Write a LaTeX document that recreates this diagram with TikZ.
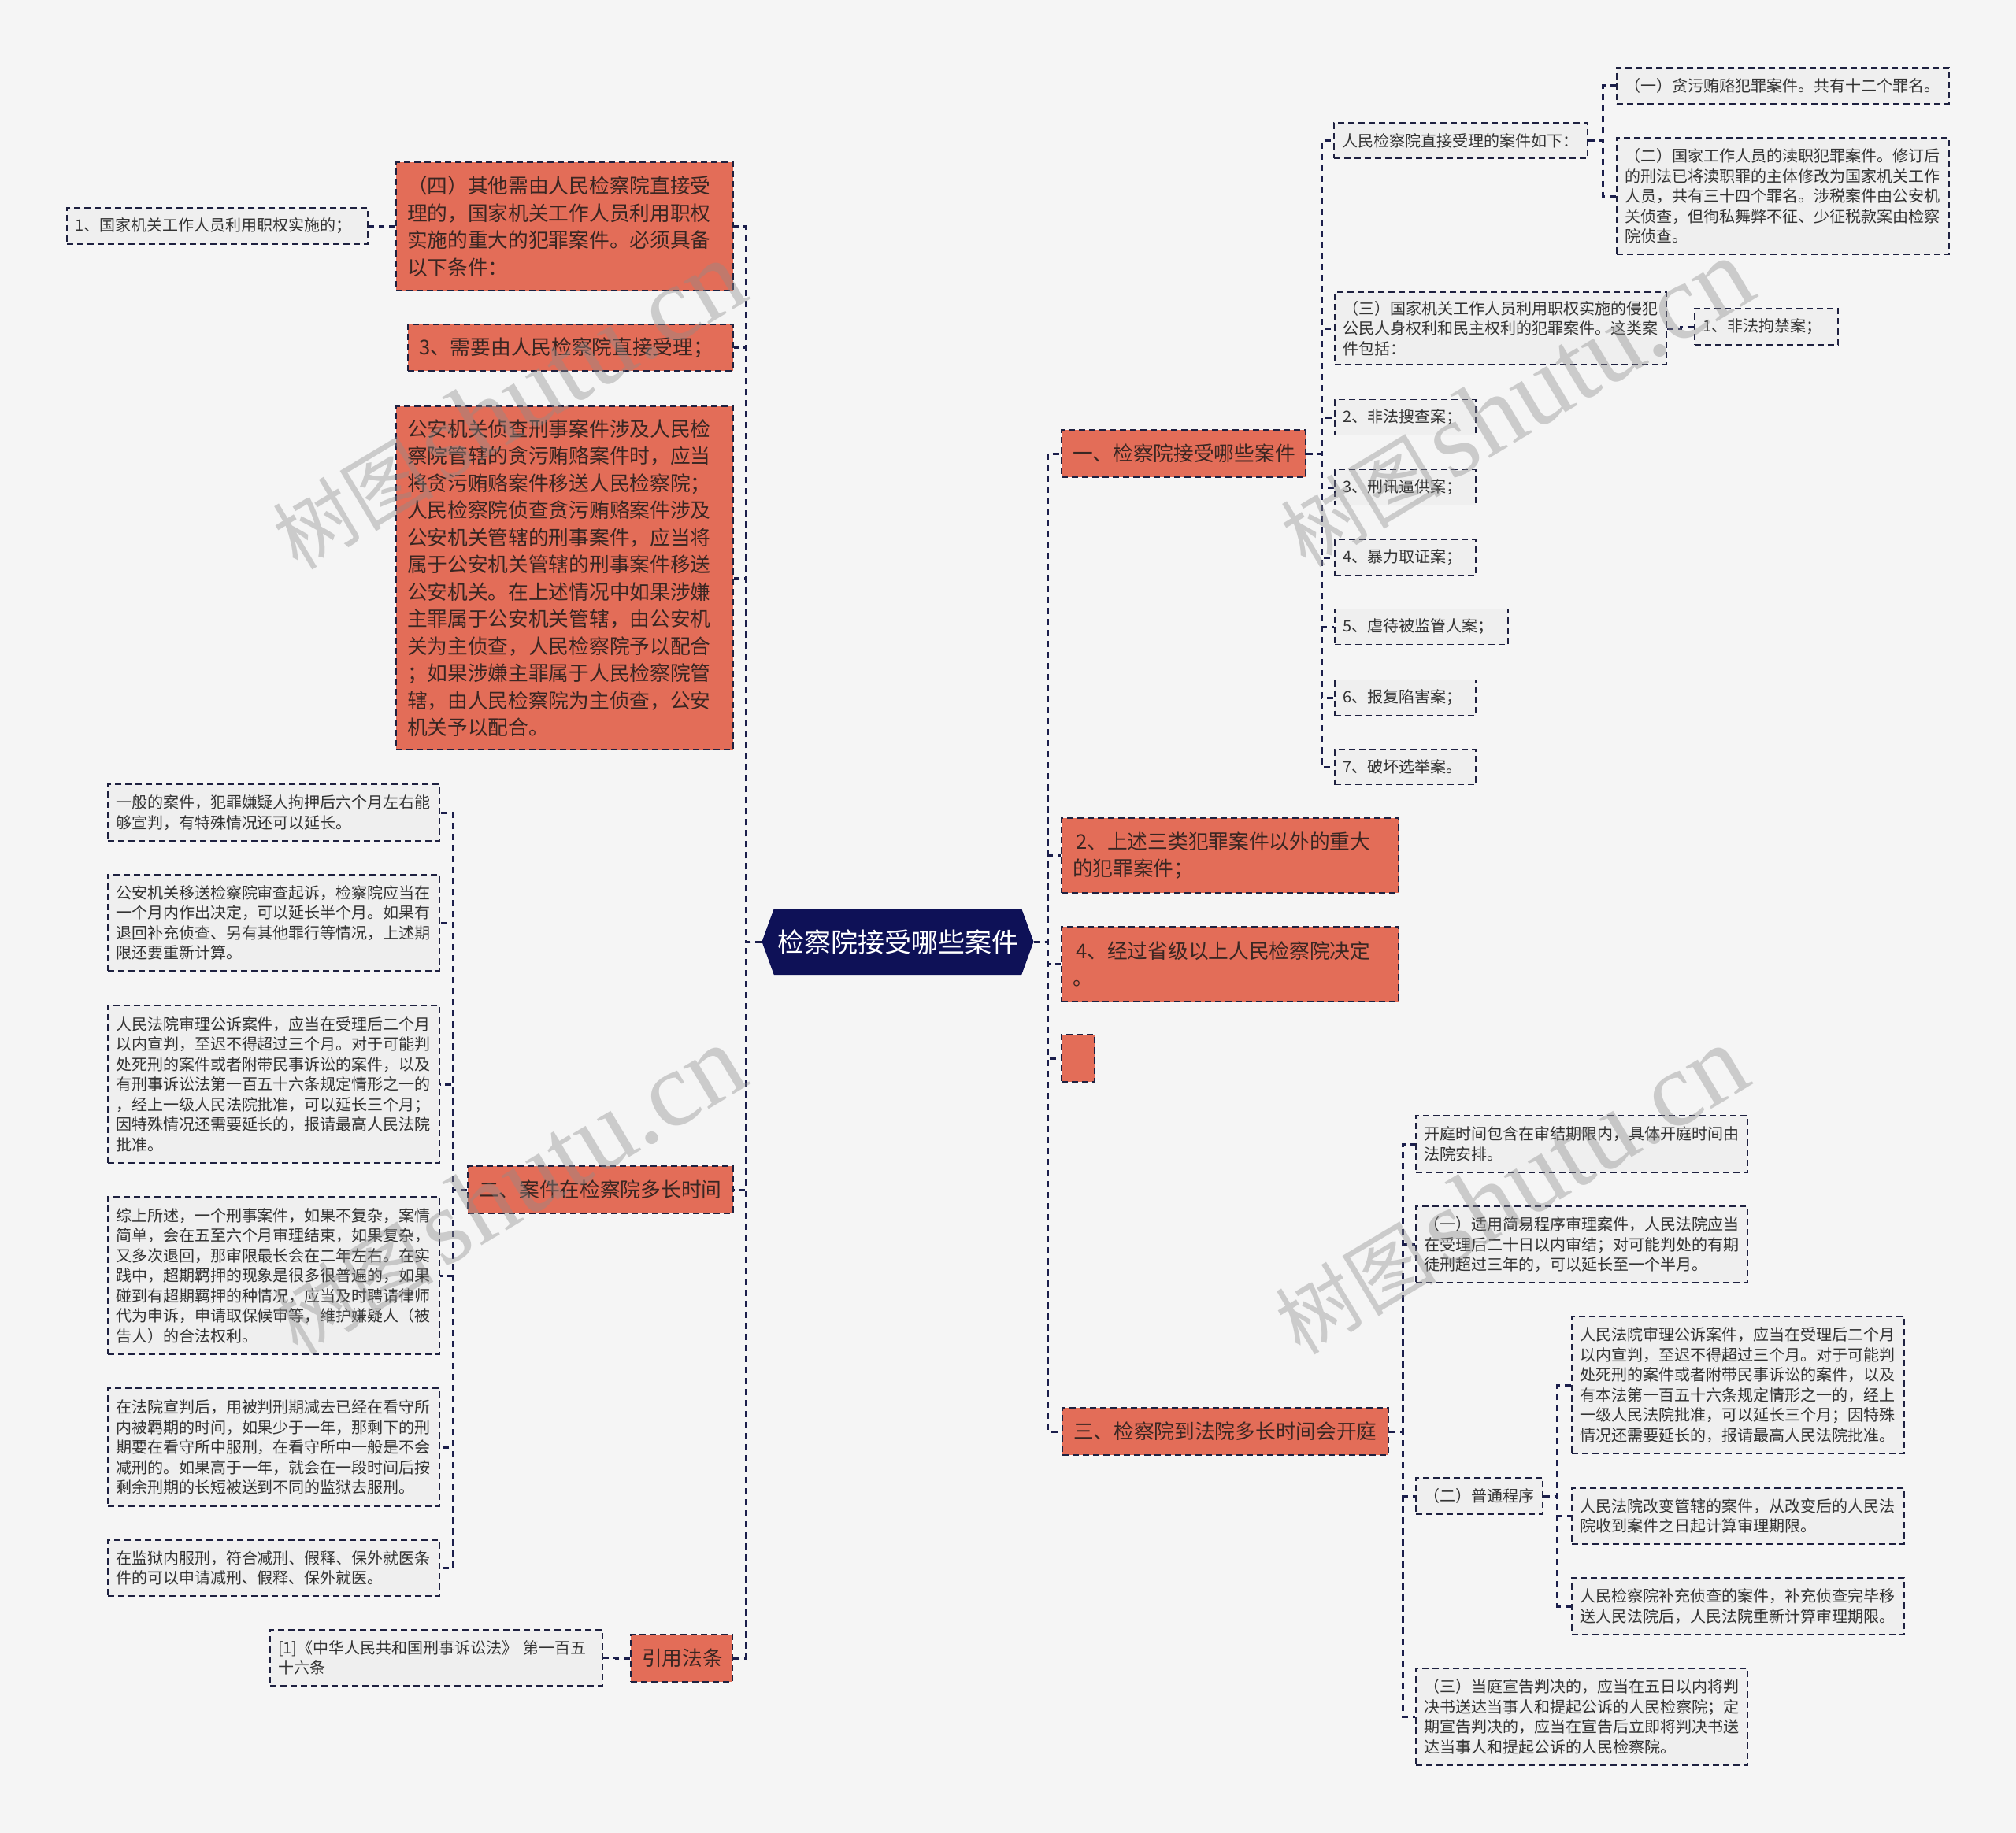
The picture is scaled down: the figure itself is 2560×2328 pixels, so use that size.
\documentclass[tikz,border=0pt]{standalone}
\usepackage{fontspec}
\setmainfont{Noto Sans CJK SC}
\newfontfamily\wmlat{Liberation Serif}
\usetikzlibrary{shapes.symbols}
\definecolor{bgc}{HTML}{F5F5F5}
\definecolor{org}{HTML}{E36D58}
\definecolor{orgtxt}{HTML}{3A2622}
\definecolor{bord}{HTML}{1E2140}
\definecolor{navy}{HTML}{0E1157}
\definecolor{grayfill}{HTML}{EFEFEF}
\definecolor{graytxt}{HTML}{333333}
\definecolor{linec}{HTML}{1B1E4B}
\pgfdeclarelayer{back}
\pgfsetlayers{back,main}
\begin{document}
\begin{tikzpicture}[x=0.5pt,y=-0.5pt,
 obox/.style={draw=bord, fill=org, text=orgtxt, dash pattern=on 4pt off 2.5pt, line width=1pt, inner xsep=7pt, inner ysep=0pt, align=left, font=\fontsize{12.85pt}{17.25pt}\selectfont},
 gbox/.style={draw=bord, fill=grayfill, text=graytxt, dash pattern=on 4pt off 2.5pt, line width=0.9pt, inner xsep=5pt, inner ysep=0pt, align=left, font=\fontsize{10pt}{12.75pt}\selectfont},
 conn/.style={draw=linec, dash pattern=on 4pt off 3pt, line width=1.5pt},
 wm/.style={text=black!45, opacity=0.4, rotate=31, inner sep=0pt}
]
\useasboundingbox (0,0) rectangle (2560,2328);
% central
\node[shape=signal, signal to=east and west, signal pointer angle=140, fill=navy, text=white, minimum width=172.5pt, minimum height=42pt, inner sep=0pt, font=\fontsize{17pt}{20pt}\selectfont] (c) at (1140,1196) {检察院接受哪些案件};

% left side
\node[obox, text width=200pt, minimum height=81.5pt] (n4) at (717,287.5) {（四）其他需由人民检察院直接受\\理的，国家机关工作人员利用职权\\实施的重大的犯罪案件。必须具备\\以下条件：};
\node[gbox, text width=181pt, minimum height=23pt] (n4a) at (276,287) {1、国家机关工作人员利用职权实施的；};
\node[obox, text width=192.5pt, minimum height=29.5pt] (n3) at (724.5,441.5) {3、需要由人民检察院直接受理；};
\node[obox, text width=200pt, minimum height=218pt] (nga) at (717,734) {公安机关侦查刑事案件涉及人民检\\察院管辖的贪污贿赂案件时，应当\\将贪污贿赂案件移送人民检察院；\\人民检察院侦查贪污贿赂案件涉及\\公安机关管辖的刑事案件，应当将\\属于公安机关管辖的刑事案件移送\\公安机关。在上述情况中如果涉嫌\\主罪属于公安机关管辖，由公安机\\关为主侦查，人民检察院予以配合\\；如果涉嫌主罪属于人民检察院管\\辖，由人民检察院为主侦查，公安\\机关予以配合。};
\node[obox, text width=154.5pt, minimum height=30pt] (n2) at (762.5,1511) {二、案件在检察院多长时间};
\node[gbox, text width=200.5pt, minimum height=36pt] (n2a) at (347.5,1032) {一般的案件，犯罪嫌疑人拘押后六个月左右能\\够宣判，有特殊情况还可以延长。};
\node[gbox, text width=200.5pt, minimum height=61pt] (n2b) at (347.5,1172) {公安机关移送检察院审查起诉，检察院应当在\\一个月内作出决定，可以延长半个月。如果有\\退回补充侦查、另有其他罪行等情况，上述期\\限还要重新计算。};
\node[gbox, text width=200.5pt, minimum height=100pt] (n2c) at (347.5,1377) {人民法院审理公诉案件，应当在受理后二个月\\以内宣判，至迟不得超过三个月。对于可能判\\处死刑的案件或者附带民事诉讼的案件，以及\\有刑事诉讼法第一百五十六条规定情形之一的\\，经上一级人民法院批准，可以延长三个月；\\因特殊情况还需要延长的，报请最高人民法院\\批准。};
\node[gbox, text width=200.5pt, minimum height=100pt] (n2d) at (347.5,1620) {综上所述，一个刑事案件，如果不复杂，案情\\简单，会在五至六个月审理结束，如果复杂，\\又多次退回，那审限最长会在二年左右。在实\\践中，超期羁押的现象是很多很普遍的，如果\\碰到有超期羁押的种情况，应当及时聘请律师\\代为申诉，申请取保候审等，维护嫌疑人（被\\告人）的合法权利。};
\node[gbox, text width=200.5pt, minimum height=75pt] (n2e) at (347.5,1838) {在法院宣判后，用被判刑期减去已经在看守所\\内被羁期的时间，如果少于一年，那剩下的刑\\期要在看守所中服刑，在看守所中一般是不会\\减刑的。如果高于一年，就会在一段时间后按\\剩余刑期的长短被送到不同的监狱去服刑。};
\node[gbox, text width=200.5pt, minimum height=35.5pt] (n2f) at (347.5,1991.5) {在监狱内服刑，符合减刑、假释、保外就医条\\件的可以申请减刑、假释、保外就医。};
\node[obox, text width=50.5pt, minimum height=30pt] (nyin) at (865.5,2106) {引用法条};
\node[gbox, text width=201pt, minimum height=35.5pt] (nyina) at (554,2105.5) {[1]《中华人民共和国刑事诉讼法》 第一百五\\十六条};

% right side
\node[obox, text width=141pt, minimum height=30pt] (r1) at (1503,576) {一、检察院接受哪些案件};
\node[gbox, text width=151pt, minimum height=22.5pt] (r1a) at (1855,178.5) {人民检察院直接受理的案件如下：};
\node[gbox, text width=201pt, minimum height=23pt] (r1a1) at (2264,109) {（一）贪污贿赂犯罪案件。共有十二个罪名。};
\node[gbox, text width=201pt, minimum height=74pt] (r1a2) at (2264,249) {（二）国家工作人员的渎职犯罪案件。修订后\\的刑法已将渎职罪的主体修改为国家机关工作\\人员，共有三十四个罪名。涉税案件由公安机\\关侦查，但徇私舞弊不征、少征税款案由检察\\院侦查。};
\node[gbox, text width=200.5pt, minimum height=46pt] (r1b) at (1905.5,417) {（三）国家机关工作人员利用职权实施的侵犯\\公民人身权利和民主权利的犯罪案件。这类案\\件包括：};
\node[gbox, text width=81pt, minimum height=23pt] (r1b1) at (2243,415) {1、非法拘禁案；};
\node[gbox, text width=79.5pt, minimum height=22.5pt] (r1c) at (1784.5,530) {2、非法搜查案；};
\node[gbox, text width=79.5pt, minimum height=22.5pt] (r1d) at (1784.5,619) {3、刑讯逼供案；};
\node[gbox, text width=79.5pt, minimum height=22.5pt] (r1e) at (1784.5,708) {4、暴力取证案；};
\node[gbox, text width=100pt, minimum height=22.5pt] (r1f) at (1805,796) {5、虐待被监管人案；};
\node[gbox, text width=79.5pt, minimum height=22.5pt] (r1g) at (1784.5,886) {6、报复陷害案；};
\node[gbox, text width=79.5pt, minimum height=22.5pt] (r1h) at (1784.5,974) {7、破坏选举案。};
\node[obox, text width=200pt, minimum height=47.5pt] (r2) at (1562,1086.5) {\,2、上述三类犯罪案件以外的重大\\的犯罪案件；};
\node[obox, text width=200pt, minimum height=47.5pt] (r4) at (1562,1224.5) {\,4、经过省级以上人民检察院决定\\。};
\node[obox, text width=7pt, minimum height=30pt] (re) at (1369,1344) {};
\node[obox, text width=193pt, minimum height=30pt] (r3) at (1556,1818) {三、检察院到法院多长时间会开庭};
\node[gbox, text width=200.5pt, minimum height=36pt] (r3a) at (2008.5,1453) {开庭时间包含在审结期限内，具体开庭时间由\\法院安排。};
\node[gbox, text width=200.5pt, minimum height=48.5pt] (r3b) at (2008.5,1580.5) {（一）适用简易程序审理案件，人民法院应当\\在受理后二十日以内审结；对可能判处的有期\\徒刑超过三年的，可以延长至一个半月。};
\node[gbox, text width=70.5pt, minimum height=23pt] (r3c) at (1878.5,1900) {（二）普通程序};
\node[gbox, text width=201pt, minimum height=87pt] (r3c1) at (2207,1759) {人民法院审理公诉案件，应当在受理后二个月\\以内宣判，至迟不得超过三个月。对于可能判\\处死刑的案件或者附带民事诉讼的案件，以及\\有本法第一百五十六条规定情形之一的，经上\\一级人民法院批准，可以延长三个月；因特殊\\情况还需要延长的，报请最高人民法院批准。};
\node[gbox, text width=201pt, minimum height=35.5pt] (r3c2) at (2207,1925.5) {人民法院改变管辖的案件，从改变后的人民法\\院收到案件之日起计算审理期限。};
\node[gbox, text width=201pt, minimum height=36pt] (r3c3) at (2207,2040) {人民检察院补充侦查的案件，补充侦查完毕移\\送人民法院后，人民法院重新计算审理期限。};
\node[gbox, text width=200.5pt, minimum height=61.5pt] (r3d) at (2008.5,2180.5) {（三）当庭宣告判决的，应当在五日以内将判\\决书送达当事人和提起公诉的人民检察院；定\\期宣告判决的，应当在宣告后立即将判决书送\\达当事人和提起公诉的人民检察院。};

\begin{pgfonlayer}{back}
\fill[bgc] (0,0) rectangle (2560,2328);
\foreach \t in {n4,n3,nga,n2,nyin} \draw[conn] (c.west) -- ++(-20,0) |- (\t.east);
\foreach \t in {r1,r2,r4,re,r3} \draw[conn] (c.east) -- ++(18,0) |- (\t.west);
\draw[conn] (n4.west) -- ++(-18,0) |- (n4a.east);
\foreach \t in {n2a,n2b,n2c,n2d,n2e,n2f} \draw[conn] (n2.west) -- ++(-18,0) |- (\t.east);
\draw[conn] (nyin.west) -- ++(-18,0) |- (nyina.east);
\foreach \t in {r1a,r1b,r1c,r1d,r1e,r1f,r1g,r1h} \draw[conn] (r1.east) -- ++(19,0) |- (\t.west);
\foreach \t in {r1a1,r1a2} \draw[conn] (r1a.east) -- ++(19,0) |- (\t.west);
\draw[conn] (r1b.east) -- ++(18,0) |- (r1b1.west);
\foreach \t in {r3a,r3b,r3c,r3d} \draw[conn] (r3.east) -- ++(17,0) |- (\t.west);
\foreach \t in {r3c1,r3c2,r3c3} \draw[conn] (r3c.east) -- ++(18,0) |- (\t.west);
\end{pgfonlayer}

% watermarks
\node[wm] (wm1) at (645,515) {\fontsize{51pt}{55pt}\selectfont 树图\hspace{6pt}{\wmlat\fontsize{68pt}{72pt}\selectfont shutu.cn}};
\node[wm] (wm2) at (1925,512) {\fontsize{51pt}{55pt}\selectfont 树图\hspace{6pt}{\wmlat\fontsize{68pt}{72pt}\selectfont shutu.cn}};
\node[wm] (wm3) at (645,1512) {\fontsize{51pt}{55pt}\selectfont 树图\hspace{6pt}{\wmlat\fontsize{68pt}{72pt}\selectfont shutu.cn}};
\node[wm] (wm4) at (1918,1512) {\fontsize{51pt}{55pt}\selectfont 树图\hspace{6pt}{\wmlat\fontsize{68pt}{72pt}\selectfont shutu.cn}};
\end{tikzpicture}
\end{document}
